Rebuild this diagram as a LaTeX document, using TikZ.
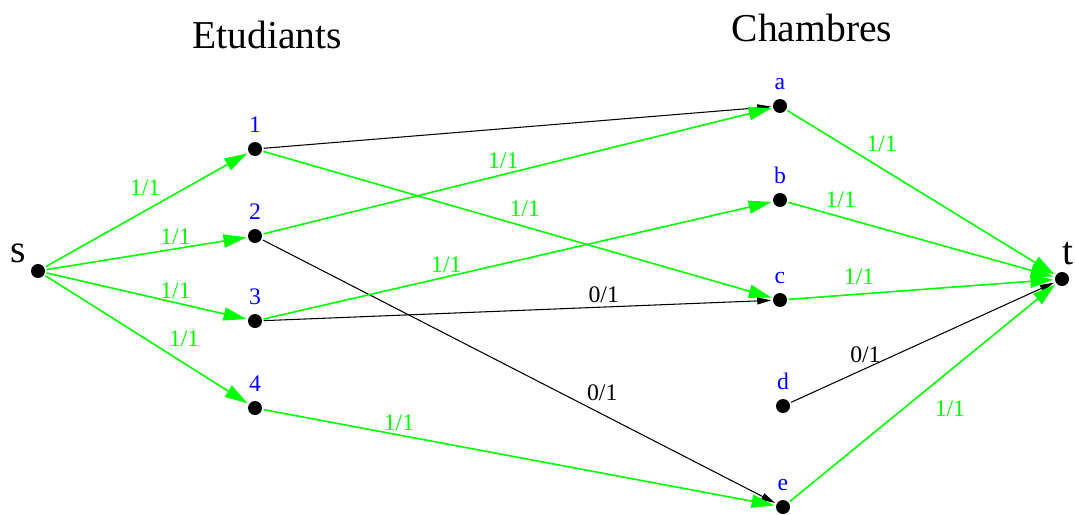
\documentclass[tikz,border=0pt]{standalone}
\usepackage{fontspec}
\setmainfont{Liberation Serif}
\usetikzlibrary{arrows.meta}

\begin{document}
\begin{tikzpicture}[x=0.02cm,y=-0.02cm,
    dot/.style={circle,fill=black,inner sep=0pt,minimum size=0.28cm,outer sep=1pt},
    num/.style={text=blue,font=\fontsize{13.5}{16}\selectfont,inner sep=1pt,label distance=3pt},
    big/.style={font=\fontsize{22.5}{27}\selectfont,inner sep=1pt},
    lab/.style={font=\fontsize{13.5}{16}\selectfont,inner sep=2pt},
    ok/.style={green,line width=0.9pt,-{Triangle[length=13pt,width=7.5pt]}},
    no/.style={black,line width=0.6pt,-{Triangle[length=8pt,width=4pt]}}]
  \useasboundingbox (0,0) rectangle (1075,514);
  \node[big,anchor=base] (etu) at (267,48) {Etudiants};
  \node[big,anchor=base] (cha) at (812,41) {Chambres};

  \node[dot,label={[big,xshift=-2pt]above left:s}] (s) at (38,271) {};
  \node[dot,label={[big,xshift=3.5pt,label distance=2pt]above:t}] (t) at (1062,279) {};
  \node[dot,label={[num]above:1}] (n1) at (255,149) {};
  \node[dot,label={[num]above:2}] (n2) at (255,236) {};
  \node[dot,label={[num]above:3}] (n3) at (255,321) {};
  \node[dot,label={[num]above:4}] (n4) at (255,408) {};
  \node[dot,label={[num]above:a}] (a) at (780,106) {};
  \node[dot,label={[num]above:b}] (b) at (780,200) {};
  \node[dot,label={[num]above:c}] (c) at (780,300) {};
  \node[dot,label={[num]above:d}] (d) at (783,406) {};
  \node[dot,label={[num]above:e}] (e) at (783,507) {};

  \draw[ok] (s) -- node[lab,pos=0.59,above left] {1/1} (n1);
  \draw[ok] (s) -- node[lab,pos=0.645,above] {1/1} (n2);
  \draw[ok] (s) -- node[lab,pos=0.645,above] {1/1} (n3);
  \draw[ok] (s) -- node[lab,pos=0.59,above right] {1/1} (n4);

  \draw[no] (n1) -- (a);
  \draw[ok] (n1) -- node[lab,pos=0.476,above right] {1/1} (c);
  \draw[ok] (n2) -- node[lab,pos=0.472,above,yshift=1pt] {1/1} (a);
  \draw[no] (n2) -- node[lab,pos=0.625,above right] {0/1} (e);
  \draw[ok] (n3) -- node[lab,pos=0.36,above] {1/1} (b);
  \draw[no] (n3) -- node[lab,pos=0.67,above] {0/1} (c);
  \draw[ok] (n4) -- node[lab,pos=0.265,above] {1/1} (e);

  \draw[ok] (a) -- node[lab,pos=0.28,above right] {1/1} (t);
  \draw[ok] (b) -- node[lab,pos=0.124,above right] {1/1} (t);
  \draw[ok] (c) -- node[lab,pos=0.266,above,yshift=3pt] {1/1} (t);
  \draw[no] (d) -- node[lab,pos=0.283,above,yshift=1pt] {0/1} (t);
  \draw[ok] (e) -- node[lab,pos=0.53,below right,yshift=-5.5pt] {1/1} (t);
\end{tikzpicture}
\end{document}
